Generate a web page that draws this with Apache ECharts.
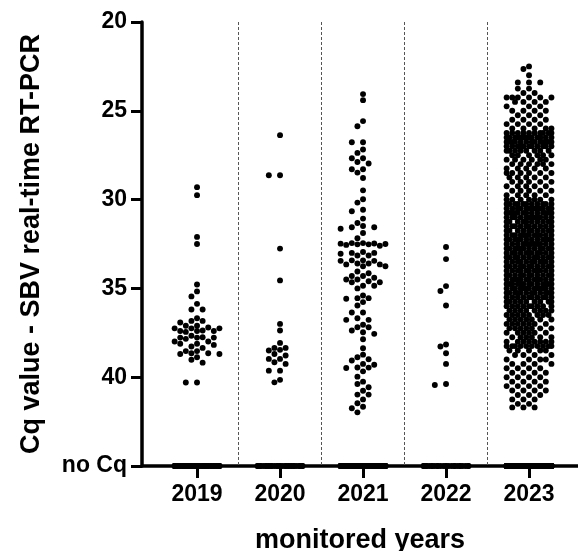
<!DOCTYPE html>
<html><head><meta charset="utf-8">
<script src="https://cdn.jsdelivr.net/npm/echarts@6/dist/echarts.min.js"></script>
<style>html,body{margin:0;padding:0;background:#fff}#c{width:578px;height:551px}</style>
</head><body><div id="c"></div>
<script>
// ---- data ----
const years = ['2019', '2020', '2021', '2022', '2023'];
const yTicks = [20, 25, 30, 35, 40, 45];
const noCqValue = 45;
const noCqLabel = 'no Cq';

const cq2019 = [29.3, 29.75, 32.1, 32.5, 34.78, 35.17, 35.45, 35.87, 36.19, 36.19, 36.68, 36.83, 36.83, 36.92,
  37.1, 37.1, 37.2, 37.25, 37.25, 37.25, 37.37, 37.4, 37.4, 37.4, 37.45, 37.67, 37.75, 37.77, 37.77, 37.77, 37.84,
  37.99, 37.99, 38.12, 38.12, 38.18, 38.27, 38.35, 38.53, 38.53, 38.65, 38.65, 38.69, 38.69, 38.88, 39.02, 39.18,
  40.3, 40.3];

const cq2020 = [26.37, 28.63, 28.63, 32.76, 34.55, 37.0, 37.37, 38.07, 38.35, 38.35, 38.46, 38.5, 38.69, 38.78,
  38.97, 38.97, 39.16, 39.25, 39.63, 39.63, 40.15, 40.29];

const cq2021 = [24.06, 24.4, 25.58, 25.87, 26.77, 26.77, 27.18, 27.37, 27.67, 27.67, 27.88, 27.97, 28.29, 28.29,
  28.48, 28.78, 29.48, 29.98, 30.17, 30.57, 30.66, 31.07, 31.32, 31.49, 31.56, 31.56, 31.64, 31.88, 32.17,
  32.5, 32.47, 32.45, 32.55, 32.52, 32.6, 32.45, 32.48, 32.52,
  33.0, 33.0, 33.05, 32.95, 33.15, 33.15,
  33.45, 33.42, 33.6, 33.42, 33.6, 33.75, 33.65, 33.75, 33.65, 33.45,
  34.15, 34.3, 34.05, 34.5, 34.3, 34.65, 34.65, 34.5, 34.6, 34.4,
  35.0, 34.85, 34.85, 35.4, 35.55, 35.58, 35.55,
  35.77, 35.96, 36.36, 36.36, 36.68, 36.77, 36.77, 37.05, 37.19, 37.19, 37.37, 37.47, 37.56, 37.86, 38.37,
  38.73, 38.88, 38.99, 39.06, 39.25, 39.3, 39.45, 39.48, 39.46, 39.67, 39.97, 40.25, 40.38, 40.57, 40.76,
  40.98, 40.98, 41.25, 41.47, 41.66, 41.75, 41.98];

const cq2022 = [32.67, 33.35, 34.87, 35.15, 35.96, 38.16, 38.27, 38.65, 39.25, 40.38, 40.44];

// 2023 is too dense to read point by point: [Cq value, number of samples at that value]
const rows2023 = [[22.5, 1], [22.65, 1], [23.0, 1], [23.4, 3], [23.75, 2], [24.0, 2], [24.25, 6], [24.5, 4],
  [24.75, 3], [25.0, 4], [25.25, 3], [25.5, 4], [25.75, 4], [26.0, 5], [26.25, 10], [26.5, 13], [26.75, 13],
  [27.0, 11], [27.25, 8], [27.5, 6], [27.75, 6], [28.0, 6], [28.25, 5], [28.5, 6], [28.75, 5], [29.0, 5],
  [29.25, 5], [29.5, 5], [29.75, 5], [30.0, 7], [30.25, 11], [30.5, 13], [30.75, 13], [31.0, 12], [31.25, 10],
  [31.5, 10], [31.75, 10], [32.0, 12], [32.25, 12], [32.5, 12], [32.75, 12], [33.0, 11], [33.25, 11], [33.5, 11],
  [33.75, 11], [34.0, 11], [34.25, 11], [34.5, 12], [34.75, 13], [35.0, 13], [35.25, 12], [35.5, 10], [35.75, 9],
  [36.0, 9], [36.25, 8], [36.5, 8], [36.75, 7], [37.0, 7], [37.25, 7], [37.5, 6], [37.75, 6], [38.0, 8],
  [38.25, 10], [38.5, 5], [38.75, 4], [39.0, 4], [39.25, 4], [39.5, 4], [39.75, 4], [40.0, 4], [40.25, 4],
  [40.5, 4], [40.75, 4], [41.0, 3], [41.25, 3], [41.5, 2], [41.7, 3]];

// samples without Cq (drawn on the "no Cq" line), count estimated
const noCqCounts = [40, 30, 60, 25, 150];

// ---- build ----
const cq2023 = [];
rows2023.forEach(([v, n]) => { for (let i = 0; i < n; i++) cq2023.push(v); });
const groups = [cq2019, cq2020, cq2021, cq2022, cq2023].map((arr, i) => {
  const a = arr.slice();
  for (let j = 0; j < noCqCounts[i]; j++) a.push(noCqValue);
  return a;
});

const FONT = "'Liberation Sans', Arial, sans-serif";
const DOT = 5.9;
const STEP = 5.6;

const chart = echarts.init(document.getElementById('c'));
const baseOption = {
  animation: false,
  backgroundColor: '#fff',
  grid: { left: 142, right: 0, top: 22, bottom: 85, containLabel: false, outerBoundsMode: 'none' },
  xAxis: {
    type: 'value', min: 0.337, max: 5.59,
    axisLine: { show: true, onZero: false, lineStyle: { color: '#000', width: 3.5 } },
    axisTick: { show: true, customValues: [1, 2, 3, 4, 5], length: 12, lineStyle: { color: '#000', width: 3 } },
    axisLabel: {
      customValues: [1, 2, 3, 4, 5], margin: 17,
      formatter: v => years[Math.round(v) - 1],
      color: '#000', fontSize: 23, fontWeight: 'bold', fontFamily: FONT
    },
    splitLine: { show: false },
    name: 'monitored years', nameLocation: 'middle', nameGap: 61,
    nameTextStyle: { color: '#000', fontSize: 27, fontWeight: 'bold', fontFamily: FONT }
  },
  yAxis: {
    type: 'value', inverse: true, min: yTicks[0], max: yTicks[yTicks.length - 1], interval: 5,
    axisLine: { show: true, onZero: false, lineStyle: { color: '#000', width: 3.5 } },
    axisTick: { show: true, length: 11, lineStyle: { color: '#000', width: 3 } },
    axisLabel: {
      margin: 15,
      formatter: v => (v === noCqValue ? noCqLabel : String(v)),
      color: '#000', fontSize: 23, fontWeight: 'bold', fontFamily: FONT
    },
    splitLine: { show: false },
    name: 'Cq value - SBV real-time RT-PCR', nameLocation: 'middle', nameGap: 97,
    nameTextStyle: { color: '#000', fontSize: 27, fontWeight: 'bold', fontFamily: FONT }
  },
  series: [{
    type: 'scatter', data: [], symbol: 'circle', symbolSize: DOT,
    itemStyle: { color: '#000', opacity: 1 }, silent: true,
    markLine: {
      silent: true, symbol: ['none', 'none'], label: { show: false },
      lineStyle: { color: '#555', width: 1, type: [3, 2] },
      data: [{ xAxis: 1.5 }, { xAxis: 2.5 }, { xAxis: 3.5 }, { xAxis: 4.5 }]
    }
  }]
};
chart.setOption(baseOption);

const f = { gridIndex: 0 };
const pxPerUnit = chart.convertToPixel(f, [2, 30])[0] - chart.convertToPixel(f, [1, 30])[0];
const ORDER = [0, -1, 1, -2, 2, -3, 3, -4, 4];
const ORDER2 = [0];
for (let j = 1; j <= 8; j++) { ORDER2.push(-j, j); }

function near(placed, py) {
  return placed.filter(p => Math.abs(p.y - py) < DOT);
}
function minDist(list, ox, py) {
  let m = Infinity;
  for (const p of list) {
    const d = Math.hypot(p.x - ox, p.y - py);
    if (d < m) m = d;
  }
  return m;
}
function overlapSum(list, ox, py) {
  let s = 0;
  for (const p of list) {
    const d = Math.hypot(p.x - ox, p.y - py);
    if (d < DOT) s += (DOT - d) * (DOT - d);
  }
  return s;
}

function swarm(vals, center) {
  const placed = [];
  const out = [];
  const sorted = vals.slice().sort((a, b) => a - b);
  for (const v of sorted) {
    const py = chart.convertToPixel(f, [center, v])[1];
    const list = near(placed, py);
    let chosen = null;
    for (const k of ORDER) {
      const ox = k * STEP;
      if (minDist(list, ox, py) >= DOT) { chosen = ox; break; }
    }
    if (chosen === null) {
      let best = 0, bestS = Infinity;
      for (const j of ORDER2) {
        const ox = j * STEP / 2;
        const s = overlapSum(list, ox, py);
        if (s < bestS - 1e-6) { bestS = s; best = ox; }
      }
      chosen = best;
    }
    placed.push({ x: chosen, y: py });
    out.push([center + chosen / pxPerUnit, v]);
  }
  return out;
}

const points = [];
groups.forEach((vals, i) => { swarm(vals, i + 1).forEach(p => points.push(p)); });
chart.setOption({ series: [{ data: points }] });
</script>
</body></html>
